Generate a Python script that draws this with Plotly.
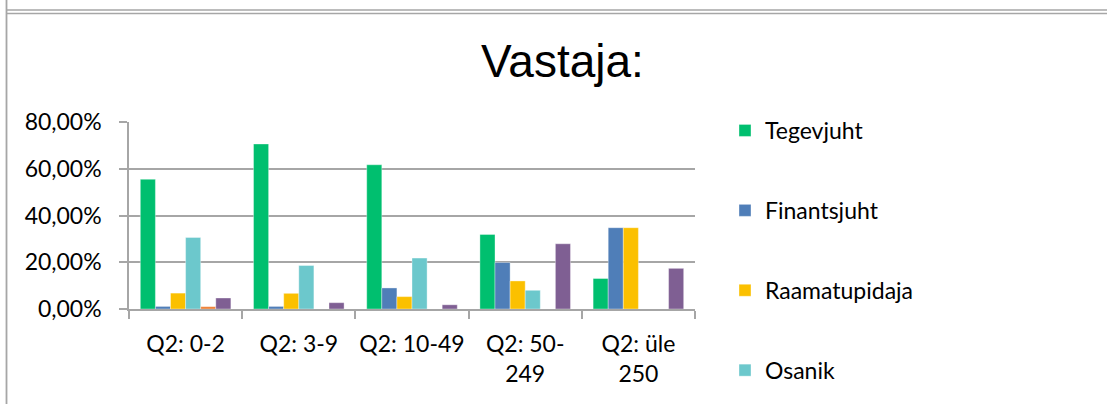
import plotly.graph_objects as go

categories = ["Q2: 0-2", "Q2: 3-9", "Q2: 10-49", "Q2: 50-<br>249", "Q2: üle<br>250"]

tegevjuht = [0.555, 0.706, 0.617, 0.319, 0.1304]
finantsjuht = [0.011, 0.011, 0.090, 0.199, 0.3478]
raamatupidaja = [0.068, 0.067, 0.053, 0.120, 0.3478]
osanik = [0.306, 0.186, 0.218, 0.080, 0.0]
juhatuse_liige = [0.010, 0.0, 0.0, 0.0, 0.0]
muu = [0.047, 0.027, 0.018, 0.279, 0.1739]

series = [
    ("Tegevjuht", tegevjuht, "#00BF6F", True),
    ("Finantsjuht", finantsjuht, "#4F7EB8", True),
    ("Raamatupidaja", raamatupidaja, "#FBC000", True),
    ("Osanik", osanik, "#6CC8CC", True),
    ("Juhatuse liige", juhatuse_liige, "#ED7D31", False),
    ("Muu", muu, "#7F5F93", False),
]

W, H = 1107, 404
L, R, T, B = 129, 412, 122, 95
pw, ph = W - L - R, H - T - B

def px_x(x):
    return (x - L) / pw

def px_y(y):
    return (H - B - y) / ph

font = "Lato, 'Noto Sans', sans-serif"

fig = go.Figure()
for name, vals, color, show in series:
    fig.add_trace(go.Bar(
        x=categories, y=vals, name=name, legendgroup=name,
        marker=dict(color=color, line=dict(width=0.6, color="rgba(255,255,255,0.6)")),
        showlegend=show,
    ))

grey = "#A6A6A6"
shapes = [
    dict(type="line", xref="paper", yref="paper", x0=px_x(6.5), x1=px_x(W + 5),
         y0=px_y(10), y1=px_y(10), line=dict(color=grey, width=1.5)),
    dict(type="line", xref="paper", yref="paper", x0=px_x(6.5), x1=px_x(W + 5),
         y0=px_y(13.5), y1=px_y(13.5), line=dict(color=grey, width=1.5)),
    dict(type="line", xref="paper", yref="paper", x0=px_x(6.5), x1=px_x(6.5),
         y0=px_y(-5), y1=px_y(H + 5), line=dict(color=grey, width=1.8)),
]

fig.update_layout(
    width=W, height=H,
    margin=dict(l=L, r=R, t=T, b=B, autoexpand=False),
    paper_bgcolor="white", plot_bgcolor="white",
    separators=", ",
    barmode="group", bargap=0.2, bargroupgap=0,
    title=dict(text="Vastaja:", x=562.5 / W, xanchor="center",
               y=1 - 61 / H, yanchor="middle", yref="container",
               font=dict(family="'Liberation Sans', Arial, sans-serif", size=46, color="#000")),
    font=dict(family=font, size=23, color="#000"),
    legend=dict(x=px_x(725), xanchor="left", y=px_y(109), yanchor="top",
                font=dict(family=font, size=23, color="#000"),
                tracegroupgap=47, bgcolor="rgba(0,0,0,0)", maxheight=600),
    shapes=shapes,
)
fig.update_xaxes(
    showline=True, linecolor=grey, linewidth=1.5,
    ticks="outside", ticklen=8, tickcolor=grey, tickwidth=1.5,
    tickson="boundaries", showgrid=False, ticklabelstandoff=14,
    tickangle=0, automargin=False,
    tickfont=dict(family=font, size=23, color="#000"),
)
fig.update_yaxes(
    range=[0, 0.8], tickvals=[0, 0.2, 0.4, 0.6, 0.8], tickformat=".2%",
    showline=True, linecolor=grey, linewidth=1.5,
    ticks="outside", ticklen=8, tickcolor=grey, tickwidth=1.5,
    showgrid=True, gridcolor=grey, gridwidth=1.5, zeroline=False,
    ticklabelstandoff=13, automargin=False,
    tickfont=dict(family=font, size=23, color="#000"),
)

fig.write_html("out.html", config={"displayModeBar": False},
               post_script="document.body.style.margin='0px';")
